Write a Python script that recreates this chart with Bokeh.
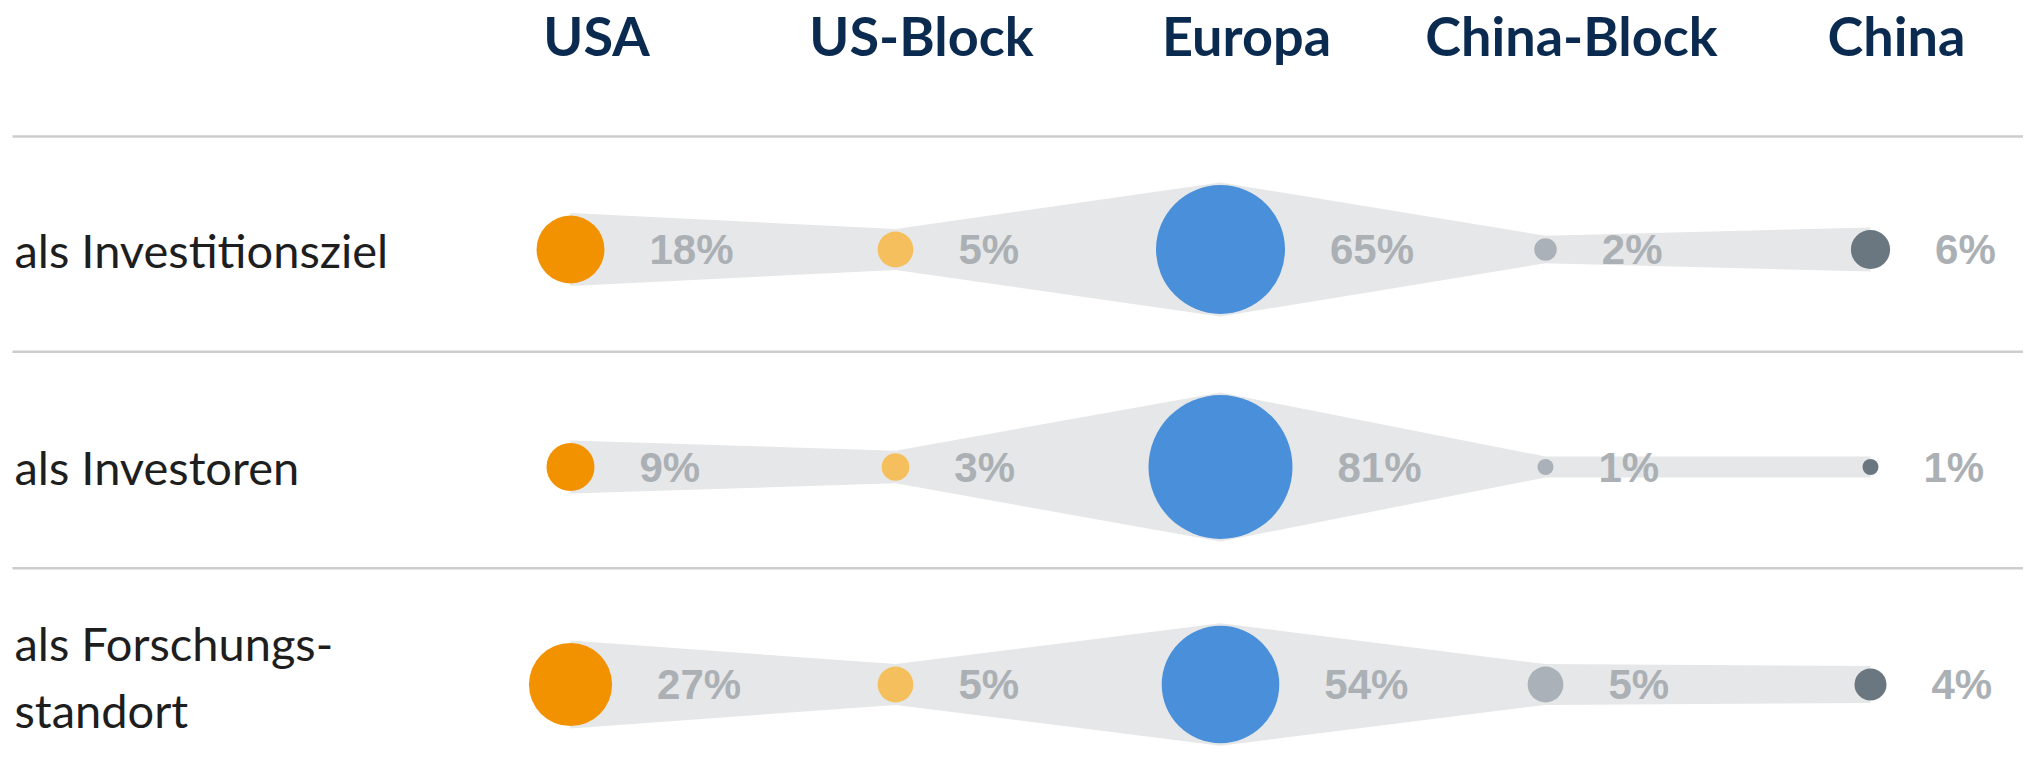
import math
from bokeh.plotting import figure
from bokeh.models import Range1d
from bokeh.core.properties import value
from bokeh.embed import file_html
from bokeh.resources import INLINE
from bokeh.models import ColumnDataSource

# ---- data ----
regions = ["USA", "US-Block", "Europa", "China-Block", "China"]
row_labels = ["als Investitionsziel", "als Investoren", "als Forschungs-\nstandort"]
als_investitionsziel = [18, 5, 65, 2, 6]
als_investoren = [9, 3, 81, 1, 1]
als_forschungsstandort = [27, 5, 54, 5, 4]
series = [als_investitionsziel, als_investoren, als_forschungsstandort]

# ---- styling / layout ----
colors = ["#F39200", "#F5BF5E", "#4A8FDA", "#AAB1B8", "#6B7780"]
BAND = "#E6E7E8"
PCT_COLOR = "#ABB0B5"
HEAD_COLOR = "#0B2A50"

W, H = 2023, 766
COL_PX = 325.0      # px between columns
ROW_PX = 217.5      # px between rows
X0_PX = 570.0       # first column centre from left
Y0_PX = 249.0       # first row centre from top
K = 16.0            # bubble diameter px per sqrt(percent)

x_start = -X0_PX / COL_PX
x_end = x_start + W / COL_PX
y_top = -Y0_PX / ROW_PX
y_bottom = y_top + H / ROW_PX

p = figure(width=W, height=H,
           x_range=Range1d(x_start, x_end),
           y_range=Range1d(y_bottom, y_top),
           output_backend="svg", toolbar_location=None,
           x_axis_location=None, y_axis_location=None,
           min_border=0, outline_line_color=None)
p.grid.visible = False
p.background_fill_color = "white"

# separators
seps = [-0.52, 0.47, 1.465]
p.segment(x0=[x_start + 12 / COL_PX] * 3, x1=[x_end] * 3, y0=seps, y1=seps,
          line_color="#CDCDCD", line_width=2.5)

# column headers
p.text(x=list(range(len(regions))), y=[-0.985] * len(regions), text=regions,
       x_offset=26, text_align="center", text_baseline="middle",
       text_font=value("Lato"), text_font_style="bold", text_font_size="54px",
       text_color=HEAD_COLOR)

# row labels
lab_src = ColumnDataSource(dict(
    x=[x_start + 14 / COL_PX] * len(row_labels), y=list(range(len(row_labels))),
    text=row_labels, yoff=[0 if "\n" not in t else -8 for t in row_labels]))
p.text("x", "y", text="text", y_offset="yoff", source=lab_src,
       text_align="left", text_baseline="middle",
       text_font=value("Lato"), text_font_size="47px", text_color="#1E1E1E",
       text_line_height=1.2)

# bands, bubbles, labels
for ri, vals in enumerate(series):
    n = len(vals)
    xs_idx = list(range(n))
    radii = [K * math.sqrt(v) / 2 for v in vals]
    half = [(r + 2.5) / ROW_PX for r in radii]
    top = [ri - h for h in half]
    bot = [ri + h for h in half]
    p.patch(xs_idx + xs_idx[::-1], top + bot[::-1], fill_color=BAND, line_color=None)

    src = ColumnDataSource(dict(
        x=xs_idx, y=[ri] * n, size=[2 * r for r in radii], color=colors,
        label=[f"{v}%" for v in vals], off=[r + 45 for r in radii]))
    p.scatter("x", "y", size="size", fill_color="color", line_color=None, source=src)
    p.text("x", "y", text="label", x_offset="off", source=src,
           text_align="left", text_baseline="middle",
           text_font=value("Liberation Sans"), text_font_style="bold",
           text_font_size="42px", text_color=PCT_COLOR)

open("out.html", "w").write(file_html(p, INLINE))
